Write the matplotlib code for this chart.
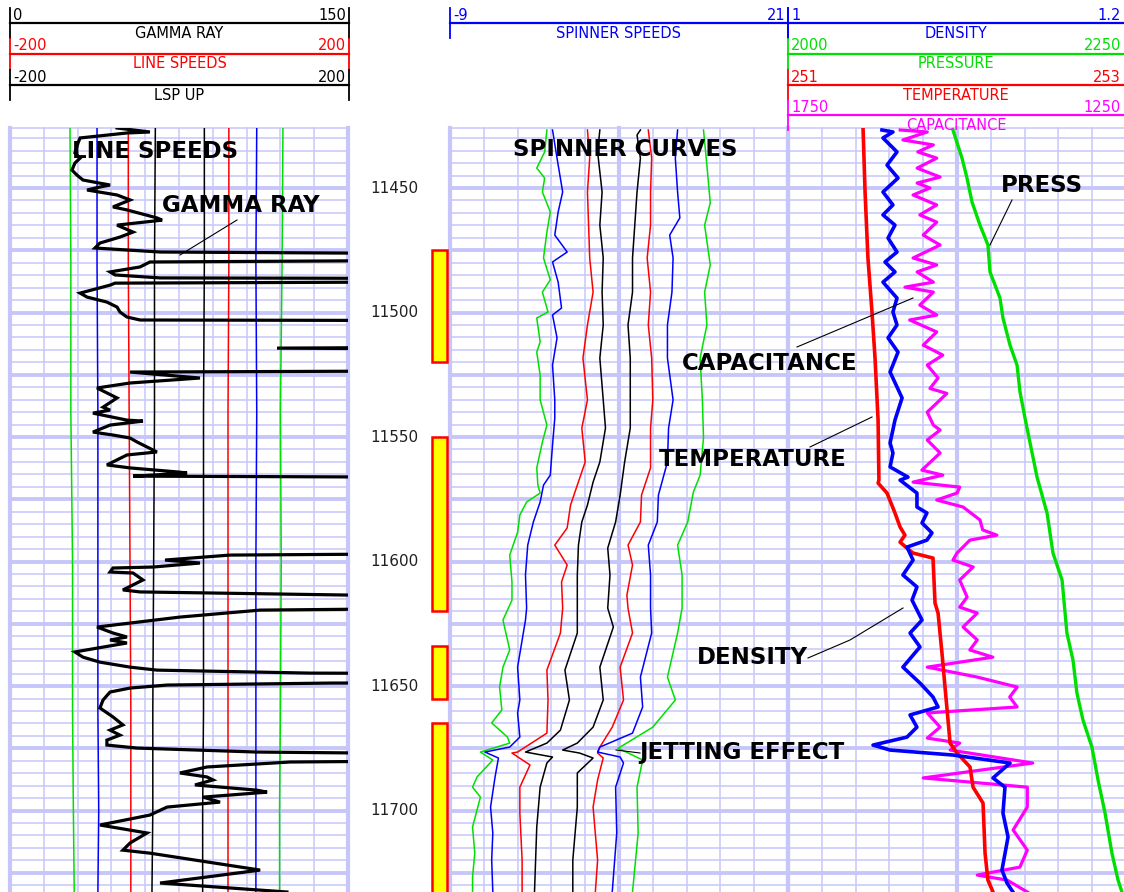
import matplotlib
matplotlib.use('Agg')
import matplotlib.pyplot as plt

# ---------------------------------------------------------------
# depth window and completions
# ---------------------------------------------------------------
DEPTH_TOP = 11425.9
DEPTH_BOT = 11732.7
DEPTH_LABELS = [11450, 11500, 11550, 11600, 11650, 11700]
PERF_TOP = [11475, 11550, 11634, 11665]
PERF_BOT = [11520, 11620, 11655, 11740]

# ---------------------------------------------------------------
# track 1 : gamma ray (API), values over 150 run off the track
# ---------------------------------------------------------------
GR_LOG = [
    (11425.9, 47.5), (11427.5, 62.1), (11427.9, 51.9), (11429.9, 31.1), (11431.9, 30.2),
    (11435.9, 28.8), (11438.0, 31.1), (11440.0, 28.8), (11442.8, 27.5), (11444.8, 29.7),
    (11446.8, 32.4), (11448.8, 44.4), (11449.6, 39.9), (11450.8, 34.2), (11452.8, 47.5),
    (11454.8, 53.3), (11457.6, 45.7), (11458.8, 51.9), (11462.0, 65.2), (11462.9, 67.5),
    (11464.9, 47.5), (11467.7, 54.6), (11469.7, 48.8), (11472.1, 39.9), (11474.1, 37.7),
    (11475.7, 66.6), (11476.9, 300), (11478.5, 300), (11479.7, 62.1), (11481.7, 57.7),
    (11483.7, 44.4), (11484.9, 46.6), (11486.1, 66.6), (11486.5, 300), (11487.3, 300),
    (11488.2, 46.6), (11489.0, 44.4), (11492.2, 31.1), (11493.8, 34.2), (11495.8, 43.0),
    (11497.8, 47.5), (11499.8, 48.8), (11501.8, 51.9), (11503.0, 57.7), (11503.4, 300),
    (11513.5, 300), (11514.3, 118.5), (11515.1, 300), (11523.1, 300), (11523.9, 53.3),
    (11526.3, 84.3), (11528.3, 53.3), (11530.3, 38.6), (11534.3, 47.5), (11538.0, 41.3),
    (11539.2, 44.4), (11540.4, 36.8), (11543.2, 51.9), (11543.6, 59.0), (11545.2, 44.4),
    (11548.0, 36.8), (11549.2, 45.7), (11550.4, 53.3), (11552.0, 56.4), (11555.2, 63.5),
    (11556.0, 65.2), (11557.2, 51.9), (11561.2, 43.0), (11562.4, 53.3), (11564.1, 75.4),
    (11564.5, 78.6), (11565.7, 54.6), (11566.5, 300), (11596.2, 300), (11597.4, 97.6),
    (11599.4, 68.8), (11600.6, 84.3), (11602.2, 63.5), (11602.6, 45.7), (11604.2, 44.4),
    (11604.6, 54.6), (11607.4, 59.0), (11611.4, 50.1), (11612.2, 57.7), (11615.5, 300),
    (11617.9, 300), (11619.5, 111.0), (11622.3, 75.4), (11626.3, 38.6), (11628.7, 45.7),
    (11630.3, 51.9), (11631.5, 44.4), (11632.7, 51.9), (11636.3, 28.8), (11638.4, 32.4),
    (11640.4, 39.9), (11642.4, 53.3), (11643.6, 65.2), (11644.8, 133.1), (11645.2, 300),
    (11648.4, 300), (11648.8, 142.0), (11649.6, 69.7), (11650.8, 53.3), (11652.4, 44.4),
    (11655.6, 41.3), (11658.8, 39.9), (11662.4, 45.7), (11665.6, 50.1), (11667.7, 44.4),
    (11669.7, 48.8), (11671.7, 43.0), (11673.7, 43.0), (11674.9, 56.4), (11676.5, 109.6),
    (11678.1, 300), (11679.3, 300), (11680.5, 124.3), (11682.5, 87.4), (11684.9, 75.4),
    (11686.5, 87.4), (11687.7, 90.1), (11689.7, 82.1), (11691.8, 109.6), (11692.6, 114.1),
    (11694.6, 85.7), (11696.6, 93.2), (11698.6, 69.7), (11701.8, 62.1), (11705.8, 39.9),
    (11709.0, 60.8), (11713.0, 53.3), (11715.9, 50.1), (11717.1, 62.1), (11723.9, 111.0),
    (11729.1, 66.6), (11732.7, 122.9),
]

# ---------------------------------------------------------------
# track 1 : line speeds (-200..200), four passes each way
# ---------------------------------------------------------------
LS_DEPTH = [11426, 11480, 11540, 11600, 11660, 11700, 11733]
LS_GREEN_DN = [-129, -128, -128, -126, -126, -125, -124]
LS_BLUE_DN = [-97, -97, -96, -96, -96, -95, -96]
LS_RED_DN = [-60, -60, -59, -58, -57, -57, -57]
LS_BLACK_DN = [-28, -29, -29, -30, -31, -31, -32]
LS_BLACK_UP = [30, 30, 29, 29, 29, 28, 28]
LS_RED_UP = [59, 59, 58, 58, 58, 58, 58]
LS_BLUE_UP = [92, 91, 92, 91, 91, 91, 91]
LS_GREEN_UP = [123, 122, 120, 121, 120, 119, 119]

# ---------------------------------------------------------------
# track 2 : spinner speeds (rps, -9..21)
# ---------------------------------------------------------------
SPIN_G1 = [(11426.7, -0.4), (11435.5, -0.6), (11442.0, -1.3), (11446.0, -0.6), (11451.6, -0.8),
           (11459.6, -0.1), (11467.7, -0.4), (11478.1, -0.7), (11486.9, -0.1), (11491.8, -0.8),
           (11499.8, -0.3), (11502.2, -1.3), (11511.8, -1.0), (11515.9, -1.3), (11525.1, -1.0),
           (11535.1, -1.0), (11545.2, -0.4), (11552.0, -0.8), (11562.4, -1.3), (11569.3, -1.2),
           (11572.5, -1.0), (11576.1, -2.2), (11581.3, -2.8), (11588.2, -3.0), (11597.4, -3.7),
           (11608.2, -3.5), (11615.5, -3.5), (11623.5, -4.3), (11635.5, -3.7), (11642.4, -4.3),
           (11650.4, -4.6), (11659.6, -4.4), (11664.8, -5.3), (11670.5, -3.9), (11672.9, -3.7),
           (11676.5, -6.3), (11679.7, -5.2), (11686.5, -6.6), (11690.6, -7.0), (11694.6, -6.3),
           (11706.6, -7.0), (11717.1, -6.8), (11726.7, -7.0), (11732.7, -7.0)]
SPIN_B1 = [(11426.7, 0.1), (11438.0, 0.5), (11451.6, 1.0), (11459.6, 0.6), (11468.9, 0.3),
           (11475.7, 1.4), (11479.7, 0.1), (11487.8, 0.6), (11498.2, 0.9), (11501.0, 0.1),
           (11510.2, 0.5), (11521.1, 0.1), (11535.1, 0.3), (11542.4, 0.3), (11553.2, 0.1),
           (11565.3, -0.1), (11569.3, -0.7), (11576.1, -1.0), (11584.1, -1.6), (11593.4, -2.1),
           (11605.4, -2.3), (11618.7, -2.2), (11623.5, -2.3), (11642.4, -3.0), (11655.6, -2.8),
           (11660.8, -3.0), (11670.5, -2.8), (11674.5, -3.7), (11676.5, -5.9), (11678.9, -4.7),
           (11686.5, -5.0), (11698.6, -5.4), (11709.0, -5.2), (11719.9, -5.3), (11732.7, -5.2)]
SPIN_R1 = [(11426.7, 3.2), (11438.0, 3.4), (11451.6, 3.2), (11464.9, 3.3), (11478.1, 3.4),
           (11491.8, 3.7), (11505.0, 3.2), (11518.3, 2.8), (11535.1, 3.2), (11546.4, 2.7),
           (11560.0, 3.0), (11569.3, 2.3), (11577.3, 1.7), (11586.5, 1.4), (11593.4, 0.3),
           (11601.4, 1.4), (11608.2, 0.9), (11618.7, 1.0), (11628.7, 0.8), (11643.6, -0.4),
           (11655.6, -0.3), (11668.9, -0.4), (11676.5, -3.0), (11676.9, -3.5), (11681.7, -1.9),
           (11690.6, -2.8), (11701.0, -2.8), (11719.9, -2.6), (11732.7, -2.6)]
SPIN_K1 = [(11426.7, 4.3), (11435.5, 4.1), (11451.6, 4.5), (11464.9, 4.3), (11478.1, 4.6),
           (11491.8, 4.5), (11505.0, 4.6), (11518.3, 4.3), (11535.1, 4.6), (11546.4, 4.8),
           (11560.0, 4.3), (11568.1, 3.7), (11577.3, 3.2), (11584.1, 2.7), (11593.4, 2.4),
           (11605.4, 2.3), (11618.7, 2.3), (11628.7, 2.3), (11643.6, 1.2), (11655.6, 1.6),
           (11667.7, 0.8), (11672.9, -0.4), (11676.5, -2.3), (11678.5, 0.1), (11680.9, -0.4),
           (11690.6, -1.0), (11706.6, -1.3), (11732.7, -1.5)]
SPIN_K2 = [(11426.7, 7.9), (11428.7, 7.6), (11438.0, 7.9), (11451.6, 7.6), (11464.9, 7.4),
           (11478.1, 7.2), (11491.8, 7.2), (11505.0, 6.8), (11518.3, 7.0), (11535.1, 7.0),
           (11546.4, 7.0), (11560.0, 6.5), (11573.3, 6.1), (11584.1, 5.7), (11594.6, 5.0),
           (11605.4, 5.2), (11618.7, 5.0), (11626.3, 5.5), (11642.4, 4.3), (11655.6, 4.6),
           (11666.5, 3.7), (11672.9, 2.3), (11675.7, 1.0), (11676.9, 2.5), (11678.9, 3.7),
           (11684.9, 2.3), (11698.6, 2.3), (11719.9, 1.9), (11732.7, 1.9)]
SPIN_R2 = [(11426.7, 8.6), (11438.0, 8.9), (11451.6, 8.8), (11464.9, 8.8), (11478.1, 8.5),
           (11491.8, 8.8), (11505.0, 8.6), (11518.3, 8.9), (11535.1, 9.0), (11546.4, 8.8),
           (11562.4, 8.8), (11573.3, 8.0), (11584.1, 7.9), (11593.4, 6.8), (11601.4, 7.2),
           (11613.5, 6.7), (11618.7, 6.8), (11628.7, 7.2), (11642.4, 6.1), (11655.6, 6.4),
           (11666.5, 5.4), (11674.5, 4.3), (11676.9, 4.1), (11678.9, 4.6), (11687.7, 4.1),
           (11698.6, 3.7), (11719.9, 4.1), (11732.7, 3.9)]
SPIN_B2 = [(11426.7, 11.2), (11438.0, 11.0), (11451.6, 11.2), (11462.0, 11.4), (11468.9, 10.5),
           (11478.1, 10.8), (11491.8, 10.7), (11505.0, 10.3), (11518.3, 10.3), (11535.1, 10.8),
           (11546.4, 10.4), (11560.0, 10.3), (11573.3, 9.5), (11584.1, 9.4), (11593.4, 8.6),
           (11605.4, 8.8), (11618.7, 8.8), (11628.7, 8.9), (11646.4, 7.9), (11658.4, 8.1),
           (11668.9, 7.2), (11674.5, 4.3), (11676.5, 4.1), (11678.5, 6.1), (11680.9, 6.4),
           (11690.6, 5.7), (11709.0, 5.8), (11732.7, 5.4)]
SPIN_G2 = [(11426.7, 13.5), (11440.8, 13.8), (11456.0, 14.1), (11464.9, 13.6), (11480.9, 14.1),
           (11491.8, 13.6), (11505.0, 13.8), (11518.3, 13.2), (11535.1, 13.4), (11550.4, 13.5),
           (11565.3, 13.2), (11572.1, 12.6), (11584.1, 12.1), (11593.4, 11.2), (11605.4, 11.6),
           (11618.7, 11.6), (11628.7, 11.2), (11646.4, 10.3), (11655.6, 11.0), (11666.5, 9.0),
           (11674.5, 6.1), (11674.9, 5.9), (11679.7, 8.1), (11690.6, 7.6), (11709.0, 7.7),
           (11732.7, 7.2)]

# ---------------------------------------------------------------
# track 3 : density, pressure, temperature, capacitance
# ---------------------------------------------------------------
DENSITY = [
    (11426.7, 1.0556), (11427.5, 1.0621), (11429.9, 1.0562), (11435.5, 1.0645), (11440.8, 1.0586),
    (11446.0, 1.0651), (11451.6, 1.0562), (11456.8, 1.0621), (11460.8, 1.0562), (11464.9, 1.0633),
    (11470.1, 1.0592), (11475.7, 1.0645), (11479.7, 1.0574), (11483.7, 1.0633), (11487.8, 1.0562),
    (11494.2, 1.0645), (11499.8, 1.0621), (11505.0, 1.0645), (11510.2, 1.0592), (11515.9, 1.0651),
    (11523.9, 1.0604), (11534.3, 1.0675), (11543.2, 1.0633), (11552.4, 1.0604), (11556.4, 1.0621),
    (11562.0, 1.0604), (11566.1, 1.0710), (11567.3, 1.0663), (11572.5, 1.0763), (11578.1, 1.0763),
    (11580.5, 1.0822), (11584.5, 1.0793), (11588.5, 1.0852), (11591.4, 1.0822), (11594.2, 1.0704),
    (11599.4, 1.0740), (11605.4, 1.0680), (11610.2, 1.0763), (11615.5, 1.0734), (11623.5, 1.0793),
    (11628.7, 1.0722), (11634.3, 1.0781), (11642.4, 1.0680), (11648.8, 1.0781), (11654.4, 1.0858),
    (11658.4, 1.0888), (11661.6, 1.0722), (11666.5, 1.0763), (11670.5, 1.0704), (11673.7, 1.0503),
    (11675.7, 1.0604), (11677.7, 1.0976), (11680.9, 1.1314), (11686.9, 1.1213), (11690.6, 1.1284),
    (11701.0, 1.1272), (11710.6, 1.1302), (11723.9, 1.1266), (11729.1, 1.1296), (11732.7, 1.1331),
]
PRESSURE = [
    (11426.7, 2122.0), (11438.0, 2128.7), (11446.0, 2132.4), (11455.6, 2136.1), (11464.9, 2142.0),
    (11472.9, 2147.9), (11483.7, 2149.4), (11494.2, 2156.8), (11502.2, 2159.0), (11513.1, 2164.2),
    (11521.1, 2169.4), (11531.9, 2171.6), (11542.4, 2175.3), (11566.1, 2184.2), (11580.5, 2191.6),
    (11596.6, 2196.0), (11607.4, 2202.7), (11628.7, 2206.3), (11639.6, 2210.8), (11652.8, 2213.7),
    (11663.7, 2218.2), (11674.5, 2224.8), (11687.7, 2229.3), (11701.0, 2234.5), (11717.1, 2239.6),
    (11727.9, 2244.1), (11732.7, 2247.0),
]
TEMPERATURE = [
    (11425.9, 251.444), (11451.6, 251.456), (11478.1, 251.473), (11499.8, 251.497),
    (11518.3, 251.515), (11543.2, 251.533), (11567.3, 251.538), (11568.5, 251.533),
    (11572.5, 251.586), (11580.5, 251.633), (11586.1, 251.663), (11589.4, 251.692),
    (11592.2, 251.663), (11594.6, 251.704), (11596.6, 251.740), (11598.6, 251.858),
    (11616.7, 251.870), (11620.7, 251.888), (11636.7, 251.911), (11650.4, 251.929),
    (11663.7, 251.947), (11672.9, 251.959), (11676.9, 252.000), (11682.5, 252.077),
    (11690.6, 252.095), (11697.0, 252.154), (11717.1, 252.166), (11727.9, 252.183),
    (11732.7, 252.213),
]
CAPACITANCE = [
    (11426.7, 1584), (11427.5, 1544), (11430.7, 1580), (11432.7, 1535), (11435.5, 1558),
    (11438.0, 1530), (11442.0, 1559), (11445.6, 1525), (11448.0, 1559), (11450.0, 1540),
    (11452.8, 1565), (11456.8, 1530), (11460.8, 1555), (11463.7, 1530), (11468.9, 1550),
    (11472.9, 1525), (11478.1, 1565), (11480.9, 1530), (11483.7, 1559), (11487.8, 1535),
    (11489.8, 1577), (11491.8, 1535), (11497.0, 1555), (11501.0, 1530), (11503.0, 1570),
    (11507.8, 1530), (11513.1, 1550), (11517.1, 1521), (11521.1, 1544), (11526.3, 1528),
    (11530.5, 1540), (11532.5, 1515), (11540.0, 1544), (11545.2, 1535), (11547.2, 1525),
    (11551.2, 1544), (11556.4, 1525), (11563.3, 1552), (11565.3, 1521), (11568.1, 1565),
    (11570.1, 1496), (11572.5, 1500), (11575.3, 1530), (11578.1, 1491), (11583.3, 1466),
    (11587.3, 1462), (11589.4, 1441), (11591.4, 1481), (11596.6, 1500), (11599.4, 1506),
    (11602.2, 1476), (11607.4, 1496), (11614.3, 1485), (11618.3, 1496), (11620.7, 1470),
    (11626.3, 1491), (11631.5, 1470), (11635.5, 1481), (11638.4, 1447), (11642.4, 1544),
    (11646.4, 1470), (11650.4, 1411), (11654.4, 1422), (11658.4, 1411), (11660.8, 1544),
    (11666.5, 1525), (11670.9, 1544), (11672.9, 1496), (11675.7, 1510), (11680.9, 1388),
    (11686.9, 1550), (11690.6, 1396), (11698.6, 1396), (11707.8, 1417), (11715.9, 1396),
    (11722.7, 1407), (11725.9, 1470), (11727.9, 1426), (11732.7, 1396),
]

# ---------------------------------------------------------------
# layout (pixels of the 1124 x 892 output)
# ---------------------------------------------------------------
W, H = 1124, 892
TRACK_TOP = 128
GRID = '#C6C6FA'
GREEN = '#00E000'

fig = plt.figure(figsize=(W / 100, H / 100), dpi=100)
fig.patch.set_facecolor('white')


def track_axes(x0, x1, xlim, zorder=1):
    ax = fig.add_axes([x0 / W, 0, (x1 - x0) / W, (H - TRACK_TOP) / H], zorder=zorder)
    ax.set_xlim(*xlim)
    ax.set_ylim(DEPTH_BOT, DEPTH_TOP)
    ax.axis('off')
    return ax


def draw_grid(x0, x1, heavy_centre):
    ax = track_axes(x0, x1, (0, 10), zorder=0)
    for d in range(11430, 11735, 5):
        ax.axhline(d, color=GRID, lw=2.8 if d % 25 == 0 else 1.1)
    ax.axhline(DEPTH_TOP, color=GRID, lw=1.1, clip_on=False)
    for i in range(11):
        heavy = i in (0, 10) or (heavy_centre and i == 5)
        ax.axvline(i, color=GRID, lw=3.0 if heavy else 1.1, clip_on=False)


def split(pairs):
    return [p[1] for p in pairs], [p[0] for p in pairs]


draw_grid(10, 348, False)
draw_grid(450, 788, True)
draw_grid(788, 1126, True)

# --- track 1 ---
ax_ls = track_axes(10, 348, (-200, 200), zorder=1)
for vals, col in [(LS_GREEN_DN, GREEN), (LS_BLUE_DN, 'blue'), (LS_RED_DN, 'red'),
                  (LS_BLACK_DN, 'black'), (LS_BLACK_UP, 'black'), (LS_RED_UP, 'red'),
                  (LS_BLUE_UP, 'blue'), (LS_GREEN_UP, GREEN)]:
    ax_ls.plot(vals, LS_DEPTH, color=col, lw=1.1)

ax_gr = track_axes(10, 348, (0, 150), zorder=2)
x, y = split(GR_LOG)
ax_gr.plot(x, y, color='black', lw=2.3, solid_joinstyle='miter')

# --- depth column ---
ax_d = track_axes(348, 450, (0, 102), zorder=1)
for d in DEPTH_LABELS:
    ax_d.text(46, d, str(d), ha='center', va='center', fontsize=11, color='#202020')
ax_d.bar([91] * len(PERF_TOP), [b - t for t, b in zip(PERF_TOP, PERF_BOT)], width=15,
         bottom=PERF_TOP, color='#FFFF00', edgecolor='#FF0000', linewidth=1.8)

# --- track 2 ---
ax_sp = track_axes(450, 788, (-9, 21), zorder=1)
for curve, col in [(SPIN_G1, GREEN), (SPIN_B1, 'blue'), (SPIN_R1, 'red'), (SPIN_K1, 'black'),
                   (SPIN_K2, 'black'), (SPIN_R2, 'red'), (SPIN_B2, 'blue'), (SPIN_G2, GREEN)]:
    x, y = split(curve)
    ax_sp.plot(x, y, color=col, lw=1.1)

# --- track 3 ---
ax_p = track_axes(788, 1126, (2000, 2250), zorder=1)
x, y = split(PRESSURE)
ax_p.plot(x, y, color=GREEN, lw=2.4)

ax_c = track_axes(788, 1126, (1750, 1250), zorder=2)
x, y = split(CAPACITANCE)
ax_c.plot(x, y, color='#FF00FF', lw=2.3)

ax_t = track_axes(788, 1126, (251, 253), zorder=3)
x, y = split(TEMPERATURE)
ax_t.plot(x, y, color='red', lw=2.6)

ax_den = track_axes(788, 1126, (1.0, 1.2), zorder=4)
x, y = split(DENSITY)
ax_den.plot(x, y, color='blue', lw=2.6)

# ---------------------------------------------------------------
# header scales + annotations on a pixel overlay
# ---------------------------------------------------------------
ov = fig.add_axes([0, 0, 1, 1], zorder=10)
ov.set_xlim(0, W)
ov.set_ylim(H, 0)
ov.axis('off')

HDR_FONT = 10.5


def scale_row(x0, x1, y_line, lo, hi, title, color, right_bar=True):
    ov.plot([x0, x1], [y_line, y_line], color=color, lw=1.6)
    ov.plot([x0, x0], [y_line - 15, y_line + 15], color=color, lw=1.3)
    if right_bar:
        ov.plot([x1, x1], [y_line - 15, y_line + 15], color=color, lw=1.3)
    ov.text(x0 + 3, y_line - 8, lo, ha='left', va='center', color=color, fontsize=HDR_FONT)
    ov.text(x1 - 3, y_line - 8, hi, ha='right', va='center', color=color, fontsize=HDR_FONT)
    ov.text((x0 + x1) / 2, y_line + 10, title, ha='center', va='center', color=color,
            fontsize=HDR_FONT)


scale_row(10, 349, 23, '0', '150', 'GAMMA RAY', 'black')
scale_row(10, 349, 54, '-200', '200', 'LINE SPEEDS', 'red')
scale_row(10, 349, 85, '-200', '200', 'LSP UP', 'black')
scale_row(450, 788, 23, '-9', '21', 'SPINNER SPEEDS', 'blue')
scale_row(788, 1124, 23, '1', '1.2', 'DENSITY', 'blue', right_bar=False)
scale_row(788, 1124, 54, '2000', '2250', 'PRESSURE', GREEN, right_bar=False)
scale_row(788, 1124, 85, '251', '253', 'TEMPERATURE', 'red', right_bar=False)
scale_row(788, 1124, 115, '1750', '1250', 'CAPACITANCE', '#FF00FF', right_bar=False)

LABEL_FONT = 16.5
for txt, lx, ly in [('LINE SPEEDS', 72, 151), ('GAMMA RAY', 162, 206),
                    ('SPINNER CURVES', 513, 150), ('PRESS', 1001, 185),
                    ('CAPACITANCE', 682, 363), ('TEMPERATURE', 659, 460),
                    ('DENSITY', 697, 657), ('JETTING EFFECT', 639, 752)]:
    ov.text(lx, ly, txt, ha='left', va='center', fontsize=LABEL_FONT,
            fontweight='bold', color='black')

for xs, ys in [([237, 180], [220, 255]), ([1012, 990], [200, 245]),
               ([797, 913], [347, 298]), ([810, 872], [447, 417]),
               ([808, 850, 903], [658, 640, 608]), ([640, 616], [753, 750])]:
    ov.plot(xs, ys, color='black', lw=0.8)

fig.savefig('out.png', dpi=100, facecolor='white')
